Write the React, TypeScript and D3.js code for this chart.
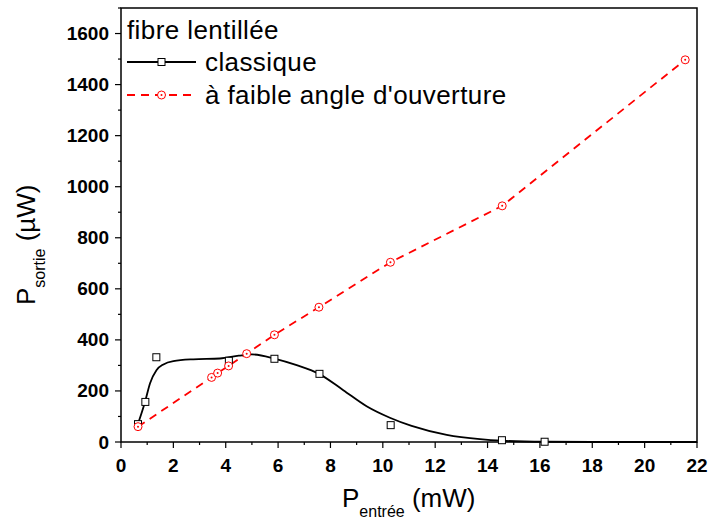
import React, { useEffect, useRef } from 'react';
import * as d3 from 'd3';

// measured points, "classique" lensed fibre
const classiqueX = [0.65, 0.93, 1.35, 4.12, 5.86, 7.58, 10.3, 14.55, 16.18];
const classiqueY = [70, 157, 332, 318, 326, 267, 66, 7, 1];

// fitted curve through "classique"
const fitX = [0.63, 0.92, 1.11, 1.36, 1.62, 2.0, 2.76, 3.78, 4.5, 5.0, 5.86, 6.71, 7.58, 8.49, 9.38, 10.27, 11.1, 12.44, 13.71, 14.55, 16.2, 18, 22];
const fitY = [66, 158, 230, 282, 304, 317, 324, 327, 338, 343, 327, 301, 266, 203, 140, 95, 63, 28, 11, 5, 1, 0, 0];

// "à faible angle d'ouverture"
const faibleX = [0.65, 3.46, 3.69, 4.11, 4.8, 5.86, 7.56, 10.29, 14.56, 21.55];
const faibleY = [60, 253, 270, 298, 346, 420, 528, 704, 925, 1497];

const xTicks = [0, 2, 4, 6, 8, 10, 12, 14, 16, 18, 20, 22];
const yTicks = [0, 200, 400, 600, 800, 1000, 1200, 1400, 1600];

const W = 712;
const H = 520;
const FONT = 'Liberation Sans, Arial, sans-serif';

export default function App() {
  const svgRef = useRef<SVGSVGElement>(null);

  useEffect(() => {
    if (!svgRef.current) return;
    const svg = d3.select(svgRef.current);
    svg.selectAll('*').remove();

    const left = 121, right = 697, top = 8, bottom = 442;
    const x = d3.scaleLinear().domain([0, 22]).range([left, right]);
    const y = d3.scaleLinear().domain([0, 1700]).range([bottom, top]);

    // frame
    svg.append('rect')
      .attr('x', left).attr('y', top)
      .attr('width', right - left).attr('height', bottom - top)
      .attr('fill', 'none').attr('stroke', '#000').attr('stroke-width', 1.5);

    // x axis ticks
    d3.range(0, 23, 1).forEach((v) => {
      const major = v % 2 === 0;
      svg.append('line')
        .attr('x1', x(v)).attr('x2', x(v))
        .attr('y1', bottom).attr('y2', bottom + (major ? 6 : 3))
        .attr('stroke', '#000').attr('stroke-width', 1.2);
    });
    xTicks.forEach((v) => {
      svg.append('text')
        .attr('x', x(v)).attr('y', bottom + 30)
        .attr('text-anchor', 'middle')
        .style('font-family', FONT).style('font-size', '19px').style('font-weight', 'bold')
        .text(v);
    });

    // y axis ticks
    d3.range(0, 1701, 100).forEach((v) => {
      const major = v % 200 === 0;
      svg.append('line')
        .attr('x1', left).attr('x2', left - (major ? 6 : 3))
        .attr('y1', y(v)).attr('y2', y(v))
        .attr('stroke', '#000').attr('stroke-width', 1.2);
    });
    yTicks.forEach((v) => {
      svg.append('text')
        .attr('x', left - 12).attr('y', y(v))
        .attr('text-anchor', 'end').attr('dominant-baseline', 'central')
        .style('font-family', FONT).style('font-size', '19px').style('font-weight', 'bold')
        .text(v);
    });

    // axis titles
    const xt = svg.append('text')
      .attr('x', 342).attr('y', 507)
      .style('font-family', FONT).style('font-size', '26px');
    xt.append('tspan').text('P');
    xt.append('tspan').attr('dy', 10).style('font-size', '16px').text('entrée');
    xt.append('tspan').attr('dy', -10).text(' (mW)');

    const yt = svg.append('text')
      .attr('transform', 'translate(35,305) rotate(-90)')
      .style('font-family', FONT).style('font-size', '26px');
    yt.append('tspan').text('P');
    yt.append('tspan').attr('dy', 10).style('font-size', '16px').text('sortie');
    yt.append('tspan').attr('dy', -10).text(' (µW)');

    // red dashed series
    const faible = faibleX.map((v, i) => [v, faibleY[i]] as [number, number]);
    svg.append('path')
      .attr('d', d3.line<[number, number]>().x(d => x(d[0])).y(d => y(d[1]))(faible) || '')
      .attr('fill', 'none').attr('stroke', '#ff0000').attr('stroke-width', 1.8)
      .attr('stroke-dasharray', '8,6');

    // black fitted curve
    const fit = fitX.map((v, i) => [v, fitY[i]] as [number, number]);
    svg.append('path')
      .attr('d', d3.line<[number, number]>().x(d => x(d[0])).y(d => y(d[1])).curve(d3.curveMonotoneX)(fit) || '')
      .attr('fill', 'none').attr('stroke', '#000').attr('stroke-width', 1.8);

    // squares
    classiqueX.forEach((v, i) => {
      svg.append('rect')
        .attr('x', x(v) - 3.5).attr('y', y(classiqueY[i]) - 3.5)
        .attr('width', 7).attr('height', 7)
        .attr('fill', '#fff').attr('stroke', '#000').attr('stroke-width', 1);
    });

    // circles
    faible.forEach((d) => {
      svg.append('circle')
        .attr('cx', x(d[0])).attr('cy', y(d[1])).attr('r', 4)
        .attr('fill', '#fff').attr('stroke', '#ff0000').attr('stroke-width', 1);
      svg.append('circle')
        .attr('cx', x(d[0])).attr('cy', y(d[1])).attr('r', 1)
        .attr('fill', '#ff0000');
    });

    // legend
    const legendText = (tx: number, ty: number, s: string) =>
      svg.append('text')
        .attr('x', tx).attr('y', ty)
        .style('font-family', FONT).style('font-size', '26px').style('letter-spacing', '0.4px')
        .text(s);
    legendText(127, 39, 'fibre lentillée');
    svg.append('line')
      .attr('x1', 127).attr('x2', 196).attr('y1', 62).attr('y2', 62)
      .attr('stroke', '#000').attr('stroke-width', 1.8);
    svg.append('rect')
      .attr('x', 161.5 - 3.5).attr('y', 62 - 3.5).attr('width', 7).attr('height', 7)
      .attr('fill', '#fff').attr('stroke', '#000').attr('stroke-width', 1);
    legendText(205, 71, 'classique');
    svg.append('line')
      .attr('x1', 127).attr('x2', 196).attr('y1', 95).attr('y2', 95)
      .attr('stroke', '#ff0000').attr('stroke-width', 1.8).attr('stroke-dasharray', '8,6');
    svg.append('circle')
      .attr('cx', 161.5).attr('cy', 95).attr('r', 4)
      .attr('fill', '#fff').attr('stroke', '#ff0000').attr('stroke-width', 1);
    svg.append('circle')
      .attr('cx', 161.5).attr('cy', 95).attr('r', 1).attr('fill', '#ff0000');
    legendText(205, 104, "à faible angle d'ouverture");
  }, []);

  return (
    <div style={{ position: 'absolute', left: 0, top: 0 }}>
      <svg ref={svgRef} width={W} height={H} style={{ display: 'block', background: '#fff' }} />
    </div>
  );
}
